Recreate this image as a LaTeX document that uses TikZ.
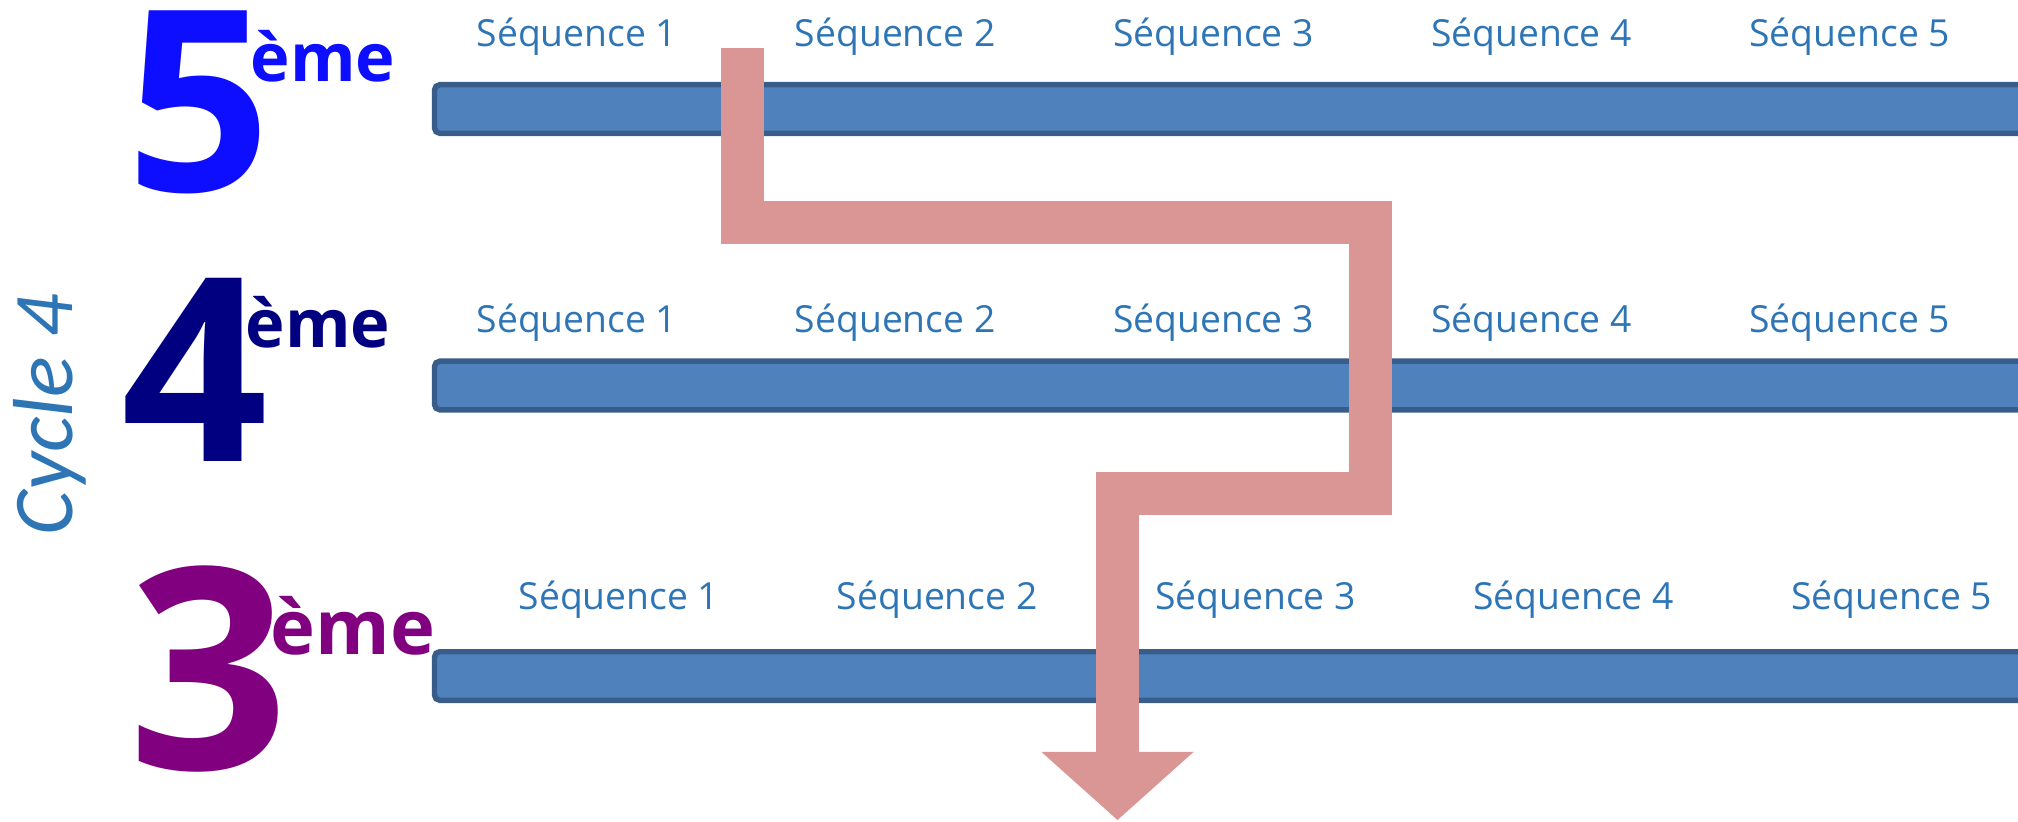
\documentclass[tikz,border=0pt]{standalone}
\usepackage{fontspec}
\setmainfont{Open Sans}
\newfontfamily\cyclefont{Carlito}
\usepackage{tikz}
\usetikzlibrary{arrows.meta}
\definecolor{seqblue}{HTML}{2E75B6}
\definecolor{barfill}{HTML}{4F81BD}
\definecolor{barline}{HTML}{385D8A}
\definecolor{pathpink}{HTML}{D99694}
\definecolor{fivecol}{RGB}{13,13,255}
\definecolor{fourcol}{HTML}{000080}
\definecolor{threecol}{HTML}{800080}
\tikzstyle{seq} = [text=seqblue, inner sep=0pt,
font=\fontsize{10.6pt}{13pt}\selectfont]
\tikzstyle{bar} = [rectangle, rounded corners=1.5pt,
minimum width=17cm,
minimum height=0.485cm,
inner sep=0pt,
draw=barline,
line width=1.56pt,
fill=barfill,
anchor=west]
\tikzstyle{level} = [inner sep=0pt, anchor=base,
font=\bfseries\fontsize{72pt}{80pt}\selectfont]
\tikzstyle{eme} = [inner sep=0pt, anchor=base west,
font=\bfseries\fontsize{19pt}{22pt}\selectfont]
\tikzstyle{arrow} = [draw=pathpink, line width=0.43cm, line join=miter,
-{Triangle[length=0.68cm, width=1.52cm, line width=0pt]}]

\begin{document}
\begin{tikzpicture}[x=0.01cm, y=-0.01cm, node distance=3.18cm]
        \useasboundingbox (0,0) rectangle (2018,821);
        \node (cycle) [text=seqblue, rotate=90, anchor=base, inner sep=0pt,
            font=\cyclefont\itshape\fontsize{24.2pt}{28pt}\selectfont] at (72,415) {Cycle 4};
        \node (five) [level, text=fivecol] at (199,191) {5};
        \node (fiveeme) [eme, text=fivecol] at (250,81) {ème};
        \node (four) [level, text=fourcol, font=\bfseries\fontsize{73pt}{80pt}\selectfont] at (195,461) {4};
        \node (foureme) [eme, text=fourcol] at (245,347) {ème};
        \node (three) [level, text=threecol, font=\bfseries\fontsize{80pt}{90pt}\selectfont] at (208.5,769) {3};
        \node (threeeme) [eme, text=threecol, font=\bfseries\fontsize{21.6pt}{25pt}\selectfont] at (270,654) {ème};
        \node (barfive) [bar] at (431.75,109) {};
        \node (barfour) [bar] at (431.75,385.5) {};
        \node (barthree) [bar] at (431.75,676) {};
        \node (sfa) [seq, anchor=base] at (577,46) {Séquence 1};
        \node (sfb) [seq, right of=sfa] {Séquence 2};
        \node (sfc) [seq, right of=sfb] {Séquence 3};
        \node (sfd) [seq, right of=sfc] {Séquence 4};
        \node (sfe) [seq, right of=sfd] {Séquence 5};
        \node (sqa) [seq, anchor=base] at (577,332) {Séquence 1};
        \node (sqb) [seq, right of=sqa] {Séquence 2};
        \node (sqc) [seq, right of=sqb] {Séquence 3};
        \node (sqd) [seq, right of=sqc] {Séquence 4};
        \node (sqe) [seq, right of=sqd] {Séquence 5};
        \node (sta) [seq, anchor=base] at (619,609) {Séquence 1};
        \node (stb) [seq, right of=sta] {Séquence 2};
        \node (stc) [seq, right of=stb] {Séquence 3};
        \node (std) [seq, right of=stc] {Séquence 4};
        \node (ste) [seq, right of=std] {Séquence 5};
        \coordinate (pa) at (742.5,48);
        \coordinate (pb) at (742.5,222.5);
        \coordinate (pc) at (1370.5,222.5);
        \coordinate (pd) at (1370.5,493.5);
        \coordinate (pe) at (1117.5,493.5);
        \coordinate (pf) at (1117.5,820);
        \draw [arrow] (pa) -- (pb) -- (pc) -- (pd) -- (pe) -- (pf);
    \end{tikzpicture}
\end{document}
